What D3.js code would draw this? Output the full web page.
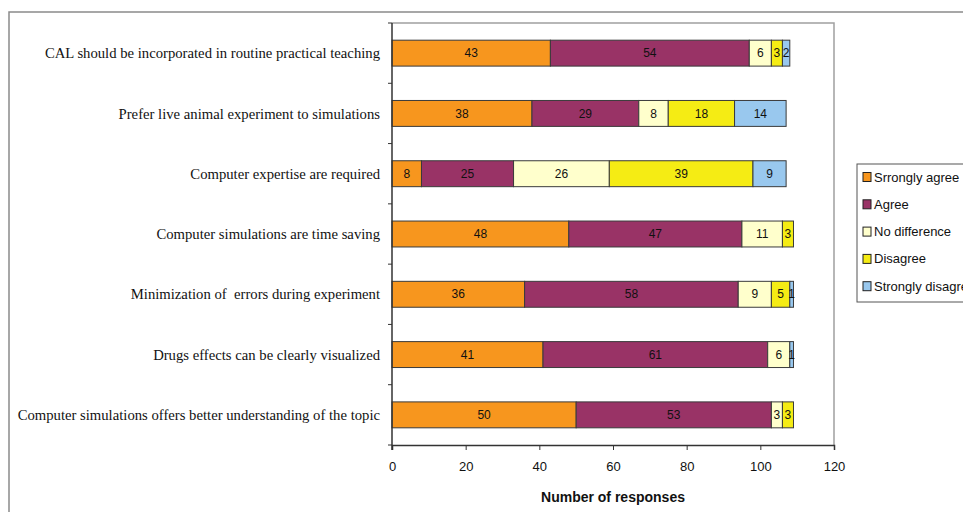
<!DOCTYPE html>
<html>
<head>
<meta charset="utf-8">
<script src="https://cdn.jsdelivr.net/npm/d3@7"></script>
<style>
  body { margin: 0; background: #fff; }
  svg { display: block; }
</style>
</head>
<body>
<div id="chart"></div>
<script>
// chart data
const statements = [
  "CAL should be incorporated in routine practical teaching",
  "Prefer live animal experiment to simulations",
  "Computer expertise are required",
  "Computer simulations are time saving",
  "Minimization of  errors during experiment",
  "Drugs effects can be clearly visualized",
  "Computer simulations offers better understanding of the topic"
];
const responses = ["Srrongly agree", "Agree", "No difference", "Disagree", "Strongly disagree"];
const stronglyAgree    = [43, 38,  8, 48, 36, 41, 50];
const agree            = [54, 29, 25, 47, 58, 61, 53];
const noDifference     = [ 6,  8, 26, 11,  9,  6,  3];
const disagree         = [ 3, 18, 39,  3,  5,  0,  3];
const stronglyDisagree = [ 2, 14,  9,  0,  1,  1,  0];
const xTicks = [0, 20, 40, 60, 80, 100, 120];
const colors = ["#F7961E", "#993366", "#FFFFCC", "#F5EC14", "#99C8EE"];

const W = 963, H = 512;
const margin = {top: 23, right: 129, bottom: 67, left: 392};
const width = W - margin.left - margin.right,
      height = H - margin.top - margin.bottom;

// build rows for the stack
const rows = statements.map((s, i) => ({
  statement: s,
  "Srrongly agree": stronglyAgree[i],
  "Agree": agree[i],
  "No difference": noDifference[i],
  "Disagree": disagree[i],
  "Strongly disagree": stronglyDisagree[i]
}));
const series = d3.stack().keys(responses)(rows);

const svg = d3.select("#chart")
  .append("svg")
    .attr("width", W)
    .attr("height", H);

// outer frame
svg.append("rect")
  .attr("x", 9).attr("y", 12)
  .attr("width", W + 10).attr("height", H + 10)
  .attr("fill", "none")
  .attr("stroke", "#8a8a8a")
  .attr("stroke-width", 1.5);

const g = svg.append("g")
  .attr("transform", `translate(${margin.left}, ${margin.top})`);

const x = d3.scaleLinear()
  .domain([0, 120])
  .range([0, width]);

const y = d3.scaleBand()
  .domain(statements)
  .range([0, height])
  .paddingInner(0.57)
  .paddingOuter(0.285);

const color = d3.scaleOrdinal()
  .domain(responses)
  .range(colors);

// plot area border (top & right)
g.append("path")
  .attr("d", `M0,0H${width}V${height}`)
  .attr("fill", "none")
  .attr("stroke", "#a0a0a0")
  .attr("stroke-width", 1.5);

// bars
const layer = g.selectAll(".layer")
  .data(series)
  .enter()
  .append("g")
    .attr("class", "layer")
    .attr("fill", d => color(d.key));

layer.selectAll("rect")
  .data(d => d.filter(v => v[1] - v[0] > 0))
  .enter()
  .append("rect")
    .attr("x", d => x(d[0]))
    .attr("y", d => y(d.data.statement))
    .attr("width", d => x(d[1]) - x(d[0]))
    .attr("height", y.bandwidth())
    .attr("stroke", "#3a3a3a")
    .attr("stroke-width", 1);

// value labels
layer.selectAll("text")
  .data(d => d.filter(v => v[1] - v[0] > 0))
  .enter()
  .append("text")
    .attr("x", d => (x(d[0]) + x(d[1])) / 2)
    .attr("y", d => y(d.data.statement) + y.bandwidth() / 2)
    .attr("dy", "0.35em")
    .attr("text-anchor", "middle")
    .attr("fill", "#111")
    .style("font", "12px 'Liberation Sans', Arial, sans-serif")
    .text(d => d[1] - d[0]);

// X axis
const xAxis = g.append("g")
  .attr("transform", `translate(0, ${height})`)
  .call(d3.axisBottom(x).tickValues(xTicks).tickSize(5).tickPadding(12));
xAxis.select(".domain").attr("stroke", "#333").attr("stroke-width", 1.5);
xAxis.selectAll(".tick line").attr("stroke", "#333");
xAxis.selectAll(".tick text")
  .attr("fill", "#111")
  .style("font", "13px 'Liberation Sans', Arial, sans-serif");

// Y axis: line + ticks between categories
g.append("line")
  .attr("x1", 0).attr("x2", 0)
  .attr("y1", 0).attr("y2", height + 5)
  .attr("stroke", "#333").attr("stroke-width", 1.5);
g.selectAll(".ytick")
  .data(d3.range(statements.length + 1))
  .enter()
  .append("line")
    .attr("x1", -4).attr("x2", 0)
    .attr("y1", i => i * y.step())
    .attr("y2", i => i * y.step())
    .attr("stroke", "#333");

// category labels
g.selectAll(".cat")
  .data(statements)
  .enter()
  .append("text")
    .attr("x", -12)
    .attr("y", d => y(d) + y.bandwidth() / 2)
    .attr("dy", "0.35em")
    .attr("text-anchor", "end")
    .attr("fill", "#111")
    .style("white-space", "pre")
    .style("font", "14.7px 'Liberation Serif', 'Times New Roman', serif")
    .text(d => d);

// axis title
svg.append("text")
  .attr("x", margin.left + width / 2)
  .attr("y", 502)
  .attr("text-anchor", "middle")
  .attr("fill", "#111")
  .style("font", "bold 14px 'Liberation Sans', Arial, sans-serif")
  .text("Number of responses");

// legend
const legend = svg.append("g").attr("transform", "translate(857, 164)");
legend.append("rect")
  .attr("width", 120).attr("height", 138)
  .attr("fill", "#fff")
  .attr("stroke", "#555")
  .attr("stroke-width", 1);
const item = legend.selectAll(".item")
  .data(responses)
  .enter()
  .append("g")
    .attr("transform", (d, i) => `translate(6, ${13 + i * 27.3})`);
item.append("rect")
  .attr("x", 0).attr("y", -4.5)
  .attr("width", 8).attr("height", 9)
  .attr("fill", d => color(d))
  .attr("stroke", "#222");
item.append("text")
  .attr("x", 11)
  .attr("dy", "0.35em")
  .attr("fill", "#111")
  .style("font", "13px 'Liberation Sans', Arial, sans-serif")
  .text(d => d);
</script>
</body>
</html>
